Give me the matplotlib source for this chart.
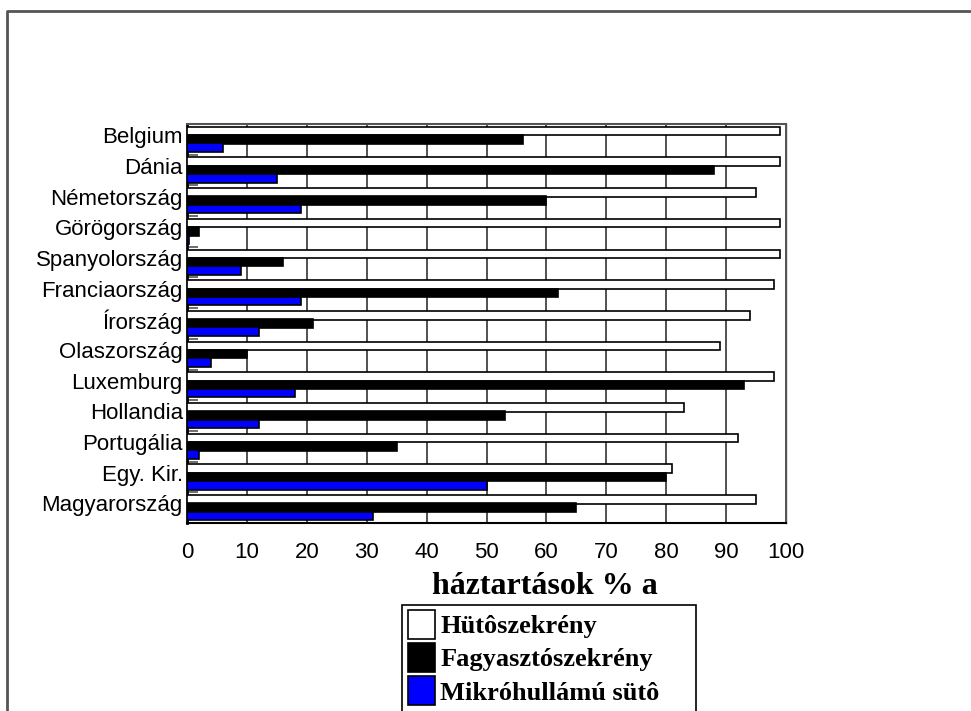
import numpy as np
import matplotlib
matplotlib.use("Agg")
import matplotlib.pyplot as plt
import matplotlib.transforms as mtransforms
from matplotlib.patches import Patch, Rectangle
from matplotlib.lines import Line2D

# Háztartások felszereltsége (%)
orszagok = ['Belgium', 'Dánia', 'Németország', 'Görögország', 'Spanyolország',
            'Franciaország', 'Írország', 'Olaszország', 'Luxemburg', 'Hollandia',
            'Portugália', 'Egy. Kir.', 'Magyarország']
hutoszekreny = [99, 99, 95, 99, 99, 98, 94, 89, 98, 83, 92, 81, 95]
fagyaszto = [56, 88, 60, 2, 16, 62, 21, 10, 93, 53, 35, 80, 65]
mikro = [6, 15, 19, 0.3, 9, 19, 12, 4, 18, 12, 2, 50, 31]

sorozat_nevek = ['Hütôszekrény', 'Fagyasztószekrény', 'Mikróhullámú sütô']
szinek = ['white', 'black', '#0000ff']

betu = ['Liberation Sans', 'DejaVu Sans']

fig = plt.figure(figsize=(9.71, 7.11), dpi=100)
ax = fig.add_axes([0.1926, 0.2644, 0.617, 0.5612])

y = np.arange(len(orszagok))
h = 0.28
ax.barh(y - 0.27, hutoszekreny, height=h, color=szinek[0], edgecolor='black', linewidth=1.2, zorder=3)
ax.barh(y, fagyaszto, height=h, color=szinek[1], edgecolor='black', linewidth=1.2, zorder=3)
ax.barh(y + 0.27, mikro, height=h, color=szinek[2], edgecolor='black', linewidth=1.2, zorder=3)

ax.set_xlim(0, 100)
ax.set_ylim(len(orszagok) - 0.5, -0.5)
ax.set_xticks(np.arange(0, 101, 10))
ax.set_yticks(y)
ax.set_yticklabels(orszagok, fontsize=16, family=betu)
ax.set_yticks(np.arange(len(orszagok)) + 0.5, minor=True)
ax.tick_params(axis='y', which='major', length=0, pad=3)
ax.tick_params(axis='y', which='minor', direction='in', length=8, color='#555555', width=1.2)
ax.tick_params(axis='x', length=0, pad=14, labelsize=16)
for t in ax.get_xticklabels():
    t.set_family(betu)

# az országnevek kicsit a csoport közepe fölött állnak
felfele = mtransforms.ScaledTranslation(0, 3 / 72, fig.dpi_scale_trans)
for t in ax.get_yticklabels():
    t.set_transform(t.get_transform() + felfele)

ax.grid(axis='x', color='#333333', linewidth=1.2, zorder=0)
ax.set_axisbelow(True)

ax.spines['left'].set_linewidth(2)
ax.spines['bottom'].set_linewidth(1.5)
ax.spines['top'].set_color('#555555')
ax.spines['top'].set_linewidth(1.5)
ax.spines['right'].set_color('#555555')
ax.spines['right'].set_linewidth(1)

fig.text(545 / 971, 1 - 587 / 711, 'háztartások % a', ha='center', va='center',
         fontsize=23, fontweight='bold', family='Liberation Serif')

# jelmagyarázat: keret külön téglalapként, a bejegyzések keret nélkül
fig.add_artist(Rectangle((402 / 971, -0.01), (696 - 402) / 971, 0.01 + (711 - 605) / 711,
                         transform=fig.transFigure, facecolor='white',
                         edgecolor='black', linewidth=1.2, zorder=1))
handles = [Patch(facecolor=c, edgecolor='black', linewidth=1.2) for c in szinek]
leg = fig.legend(handles, sorozat_nevek, loc='upper left',
                 bbox_to_anchor=(408 / 971, 1 - 610 / 711),
                 prop={'family': 'Liberation Serif', 'weight': 'bold', 'size': 19},
                 frameon=False, handlelength=1.03, handleheight=1.32,
                 handletextpad=0.2, labelspacing=0.15, borderpad=0, borderaxespad=0)
leg.set_zorder(2)

# keret a rajz körül (csak bal és felső él látszik)
fig.add_artist(Line2D([7 / 971, 7 / 971, 1.0], [0.0, 1 - 11 / 711, 1 - 11 / 711],
                      transform=fig.transFigure, color='#555555', linewidth=2))

fig.savefig('out.png', dpi=100)
